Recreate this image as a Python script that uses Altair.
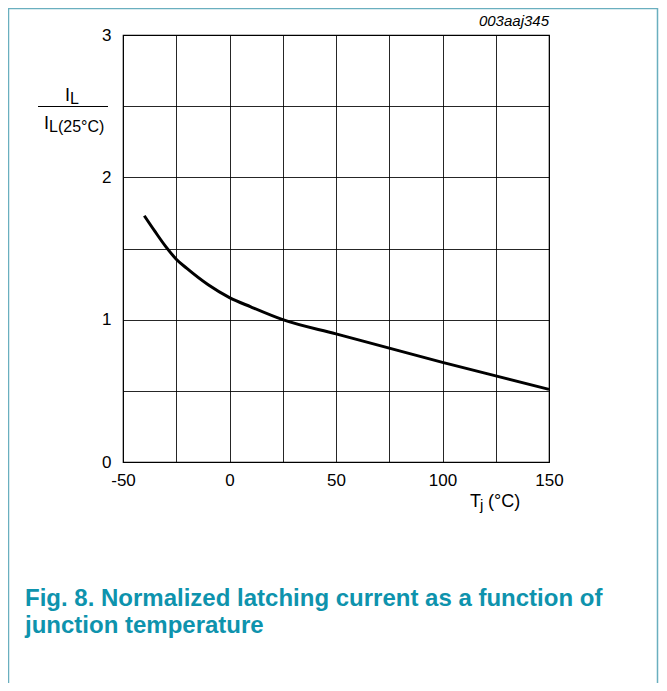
import altair as alt
import pandas as pd

# ---- data ----
temps = [-40, -35, -30, -25, -20, -10, 0, 10, 25, 50, 75, 100, 125, 150]
ratio = [1.73, 1.62, 1.515, 1.425, 1.36, 1.245, 1.155, 1.09, 1.0, 0.9, 0.8, 0.7, 0.605, 0.51]

x_grid = [-50, -25, 0, 25, 50, 75, 100, 125, 150]
y_grid = [0, 0.5, 1, 1.5, 2, 2.5, 3]

code_label = ["003aaj345"]
y_num_main = ["I"]
y_num_sub = ["L"]
y_den_main = ["I"]
y_den_sub = ["L(25°C)"]
x_title_main = ["T"]
x_title_sub = ["j"]
x_title_unit = ["(°C)"]
caption_lines = ["Fig. 8. Normalized latching current as a function of",
                 "junction temperature"]

FONT = "Liberation Sans"
W, H = 426, 427
TEAL = "#0E93AD"
FRAME = "#6AAFBF"

df = pd.DataFrame({"T": temps, "R": ratio})

curve = alt.Chart(df).mark_line(color="black", strokeWidth=3, interpolate="monotone").encode(
    x=alt.X("T:Q", scale=alt.Scale(domain=[-50, 150], nice=False, zero=False),
            axis=alt.Axis(values=x_grid, title=None, grid=True, gridColor="black", gridWidth=1,
                          gridOpacity=0.85, ticks=False, domain=False, labelFont=FONT,
                          labelFontSize=17, labelColor="black", labelPadding=10,
                          labelExpr="datum.value % 50 === 0 ? '' + datum.value : ''",
                          labelFlush=False, labelOverlap=False)),
    y=alt.Y("R:Q", scale=alt.Scale(domain=[0, 3], nice=False),
            axis=alt.Axis(values=y_grid, title=None, grid=True, gridColor="black", gridWidth=1,
                          gridOpacity=0.85, ticks=False, domain=False, labelFont=FONT,
                          labelFontSize=17, labelColor="black", labelPadding=12,
                          labelExpr="datum.value % 1 === 0 ? '' + datum.value : ''",
                          labelFlush=False, labelOverlap=False)),
)


def txt(values, x, y, size=17, align="left", style="normal", weight="normal", color="black"):
    return alt.Chart(pd.DataFrame({"s": values})).mark_text(
        align=align, baseline="alphabetic", font=FONT, fontSize=size,
        fontStyle=style, fontWeight=weight, color=color
    ).encode(text="s:N", x=alt.value(x), y=alt.value(y))


def rule(x, x2, y, y2, color, width):
    return alt.Chart(pd.DataFrame({"k": [0]})).mark_rule(color=color, strokeWidth=width).encode(
        x=alt.value(x), x2=alt.value(x2), y=alt.value(y), y2=alt.value(y2))


layers = [
    curve,
    txt(code_label, W, -9, size=15, align="right", style="italic"),
    txt(y_num_main, -58, 66, size=18),
    txt(y_num_sub, -53, 69, size=16),
    rule(-85, -15, 71.5, 71.5, "black", 1),
    txt(y_den_main, -79, 94, size=18),
    txt(y_den_sub, -74, 97, size=16),
    txt(x_title_main, 347, 472, size=18),
    txt(x_title_sub, 357, 475, size=15),
    txt(x_title_unit, 365, 472, size=18),
    txt([caption_lines[0]], -98, 571, size=24, weight="bold", color=TEAL),
    txt([caption_lines[1]], -98, 598, size=24, weight="bold", color=TEAL),
    # frame around figure
    rule(-115, 535, -26.5, -26.5, FRAME, 1.5),
    rule(-114.5, -114.5, -27, 648, FRAME, 1.5),
    rule(534.5, 534.5, -27, 648, FRAME, 1.5),
]

chart = alt.layer(*layers).properties(
    width=W, height=H,
    autosize=alt.AutoSizeParams(type="none"),
    padding={"left": 115, "top": 27, "right": 110, "bottom": 221},
    background="white",
).configure_view(stroke="black", strokeWidth=1.2)

chart.save("out.html", embed_options={"renderer": "svg", "actions": False})
